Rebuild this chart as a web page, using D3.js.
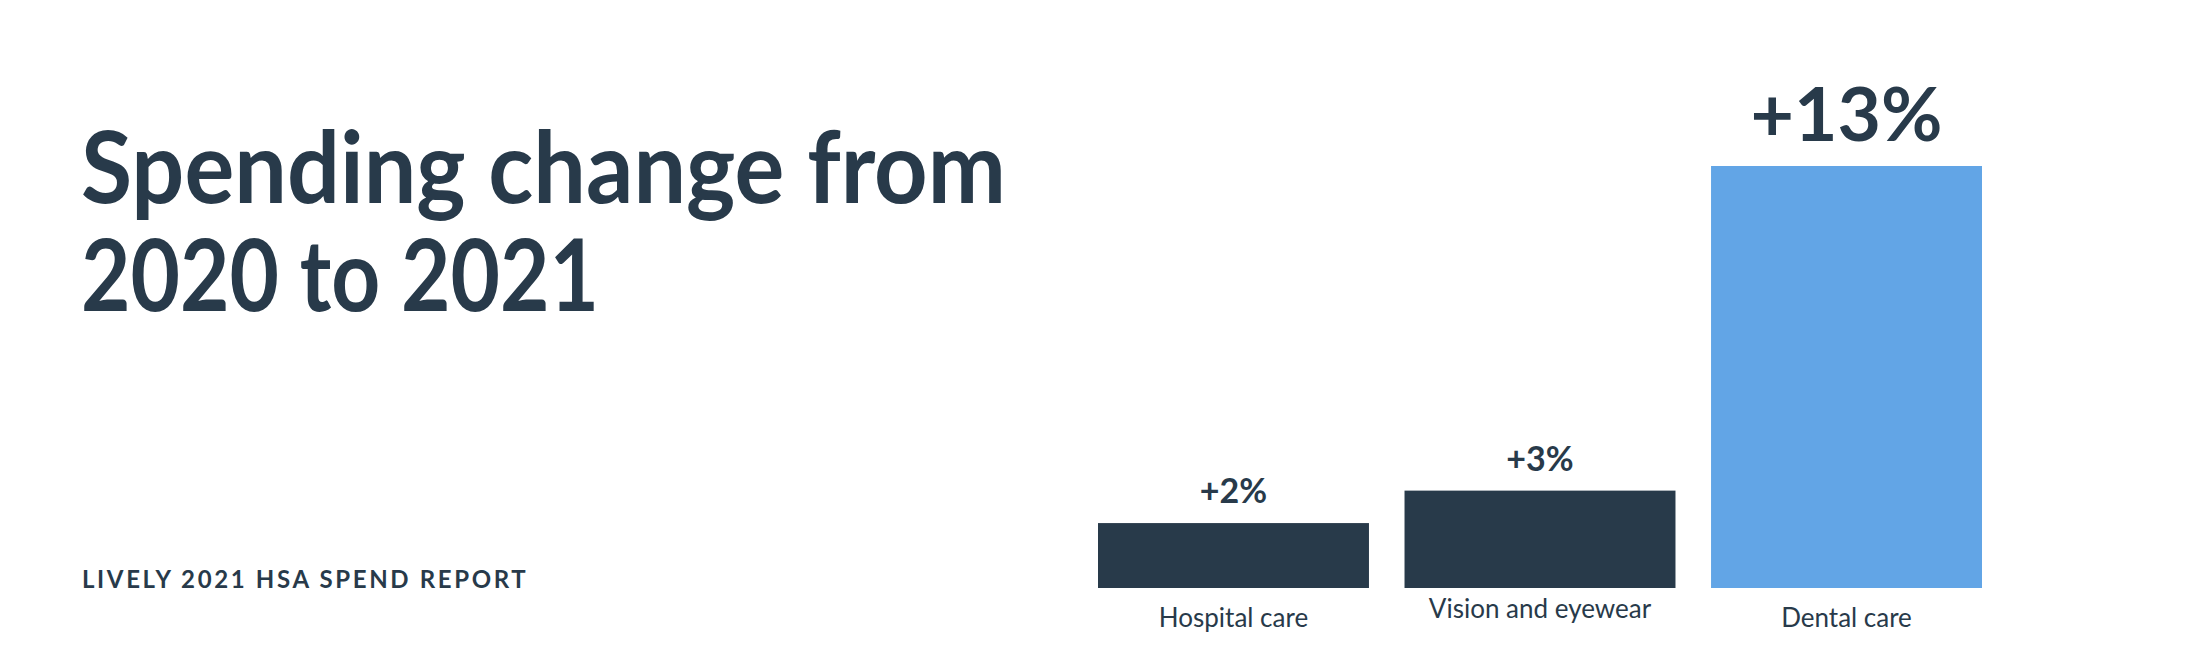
<!DOCTYPE html>
<html>
<head>
<meta charset="utf-8">
<script src="https://cdn.jsdelivr.net/npm/d3@7"></script>
<style>
  body { margin: 0; background: #fff; }
  svg { display: block; font-family: Lato, "Noto Sans", sans-serif; }
</style>
</head>
<body>
<svg class="spend-chart"></svg>
<script>
const categories = ["Hospital care", "Vision and eyewear", "Dental care"];
const changes = [2, 3, 13];
const valueLabels = ["+2%", "+3%", "+13%"];
const titleLines = ["Spending change from", "2020 to 2021"];
const subtitle = "LIVELY 2021 HSA SPEND REPORT";

const width = 2196, height = 672;
const dark = "#283a4a", blue = "#62a5e6";
const baseY = 588;

// source sans is narrower than lato, so squeeze the title lines to its widths
const titleFit = [925, 518];
// the middle category label sits a bit higher in the original
const catNudge = { "Vision and eyewear": -9 };

const svg = d3.select("svg.spend-chart")
   .attr("width", width)
   .attr("height", height);

// title block
svg.append("g").selectAll("text")
   .data(titleLines)
   .join("text")
   .attr("x", 81)
   .attr("y", (d, i) => 203 + i * 108)
   .attr("fill", dark)
   .attr("font-size", 100)
   .attr("font-weight", 700)
   .attr("textLength", (d, i) => titleFit[i])
   .attr("lengthAdjust", "spacingAndGlyphs")
   .text(d => d);

svg.append("text")
   .attr("x", 82)
   .attr("y", 588)
   .attr("fill", dark)
   .attr("font-size", 24)
   .attr("font-weight", 700)
   .attr("letter-spacing", "0.11em")
   .text(subtitle);

// scales
const xScale = d3.scaleBand()
   .domain(categories)
   .range([1098, 1982])
   .paddingInner(0.116)
   .paddingOuter(0);

const yScale = d3.scaleLinear()
   .domain([0, 13])
   .range([baseY, 166]);

const data = categories.map((c, i) => ({ cat: c, val: changes[i], label: valueLabels[i] }));
const maxVal = d3.max(changes);

svg.append("g").selectAll("rect")
   .data(data)
   .join("rect")
   .attr("x", d => xScale(d.cat))
   .attr("y", d => yScale(d.val))
   .attr("width", xScale.bandwidth())
   .attr("height", d => baseY - yScale(d.val))
   .attr("fill", d => d.val === maxVal ? blue : dark);

// value labels, the big one gets a bigger font
svg.append("g").selectAll("text")
   .data(data)
   .join("text")
   .attr("x", d => xScale(d.cat) + xScale.bandwidth() / 2)
   .attr("y", d => yScale(d.val) - (d.val === maxVal ? 25 : 20))
   .attr("text-anchor", "middle")
   .attr("fill", dark)
   .attr("font-size", d => d.val === maxVal ? 75 : 34)
   .attr("font-weight", 700)
   .text(d => d.label);

// category labels
svg.append("g").selectAll("text")
   .data(data)
   .join("text")
   .attr("x", d => xScale(d.cat) + xScale.bandwidth() / 2)
   .attr("y", d => 627 + (catNudge[d.cat] || 0))
   .attr("text-anchor", "middle")
   .attr("fill", dark)
   .attr("font-size", 26)
   .text(d => d.cat);
</script>
</body>
</html>
